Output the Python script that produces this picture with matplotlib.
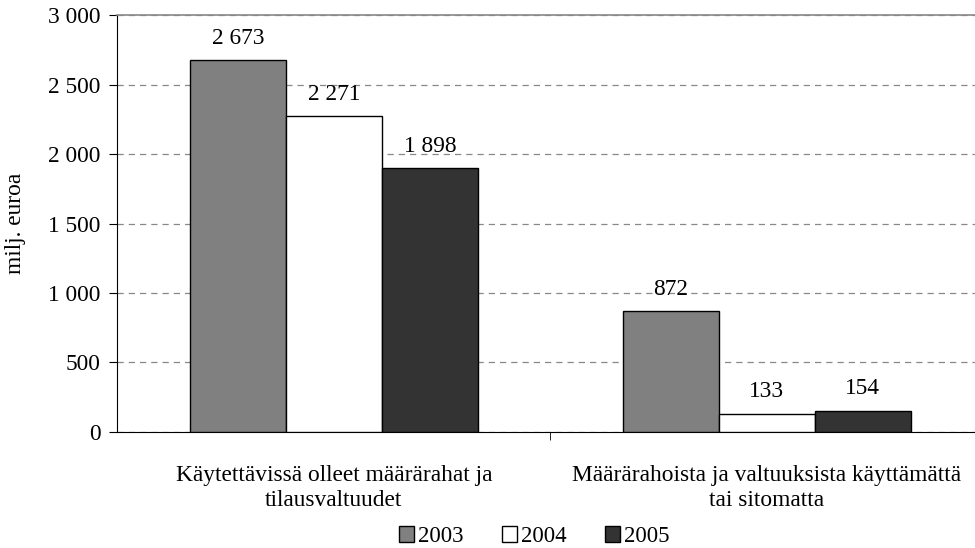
import matplotlib
matplotlib.use("Agg")
import matplotlib.pyplot as plt
import numpy as np
from matplotlib.ticker import FuncFormatter, FixedLocator
from matplotlib.patches import Patch

categories = ["Käytettävissä olleet määrärahat ja\ntilausvaltuudet",
              "Määrärahoista ja valtuuksista käyttämättä\ntai sitomatta"]
years = ["2003", "2004", "2005"]
values = {
    "2003": [2673, 872],
    "2004": [2271, 133],
    "2005": [1898, 154],
}
colors = ["#808080", "#ffffff", "#333333"]

plt.rcParams['font.family'] = ['Liberation Serif', 'DejaVu Serif']
FS = 16.8
plt.rcParams['font.size'] = FS

fig = plt.figure(figsize=(9.75, 5.48), dpi=100)
ax = fig.add_axes([0.1205, 0.2117, 0.888, 0.7609])

x = np.arange(len(categories))
w = 0.222
for i, (yr, c) in enumerate(zip(years, colors)):
    pos = x + (i - 1) * w
    bars = ax.bar(pos, values[yr], width=w, color=c, edgecolor="black", linewidth=1, zorder=3)
    for b, v in zip(bars, values[yr]):
        ax.annotate(f"{v:,}".replace(",", " "), (b.get_x() + b.get_width() / 2, v),
                    xytext=(0, 8), textcoords="offset points", ha="center", va="bottom",
                    fontsize=FS)

ax.set_xlim(-0.5, 1.5)
ax.set_ylim(0, 3000)
ax.set_yticks(np.arange(0, 3001, 500))
ax.yaxis.set_major_formatter(FuncFormatter(lambda v, p: f"{int(v):,}".replace(",", " ")))
ax.yaxis.grid(True, linestyle=(0, (5, 4)), color="#888888", linewidth=0.9, zorder=0)

ax.set_xticks(x)
ax.set_xticklabels(categories, linespacing=1.25)
ax.tick_params(axis="x", length=0, pad=24)
ax.xaxis.set_minor_locator(FixedLocator([0.5]))
ax.tick_params(axis="x", which="minor", length=6, direction="out", color="black")
ax.tick_params(axis="y", length=6, direction="out", pad=6)

ax.spines["right"].set_visible(False)
ax.spines["top"].set_color("#888888")
ax.spines["top"].set_linewidth(1.2)
ax.spines["left"].set_color("black")
ax.spines["bottom"].set_color("black")

ax.set_ylabel("milj. euroa", labelpad=16)

handles = [Patch(facecolor=c, edgecolor="black", linewidth=1) for c in colors]
fig.legend(handles, years, loc="center", bbox_to_anchor=(0.548, 0.021), ncol=3, frameon=False,
           handlelength=0.65, handleheight=0.65, handletextpad=0.2, columnspacing=1.65, fontsize=16.5)

fig.savefig("out.png", dpi=100)
